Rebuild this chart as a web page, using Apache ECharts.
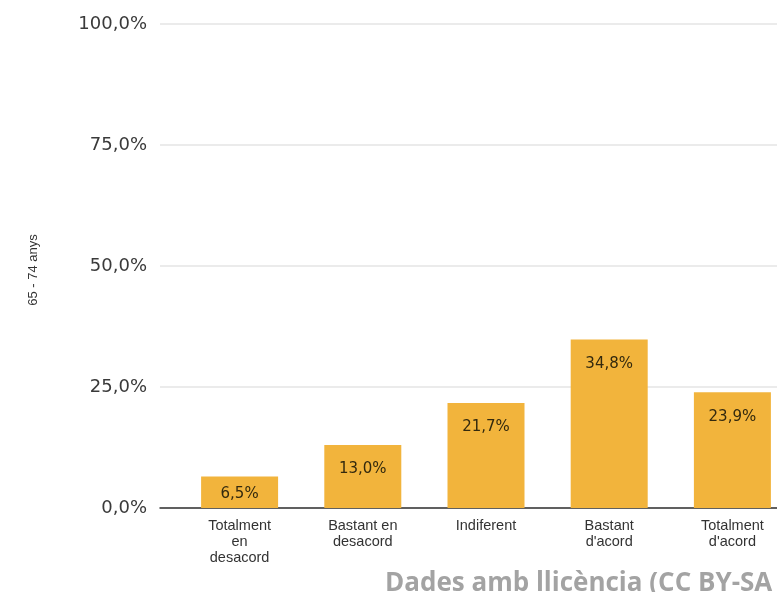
<!DOCTYPE html>
<html>
<head>
<meta charset="utf-8">
<script src="https://cdn.jsdelivr.net/npm/echarts@6/dist/echarts.min.js"></script>
<style>
html,body{margin:0;padding:0;background:#fff;}
#c{width:777px;height:592px;}
</style>
</head>
<body>
<div id="c"></div>
<script>
const categories = ["Totalment\nen\ndesacord", "Bastant en\ndesacord", "Indiferent", "Bastant\nd'acord", "Totalment\nd'acord"];
const values = [6.5, 13.0, 21.7, 34.8, 23.9];
const yTicks = [0, 25, 50, 75, 100];
const yAxisTitle = "65 - 74 anys";
const watermark = "Dades amb llicència (CC BY-SA 4.0)";

const fmt = v => v.toFixed(1).replace('.', ',') + '%';

const chart = echarts.init(document.getElementById('c'), null, {renderer: 'canvas'});
chart.setOption({
  animation: false,
  backgroundColor: '#fff',
  textStyle: {fontFamily: 'Liberation Sans, Arial, sans-serif'},
  grid: [
    {left: 160, right: 0, top: 24, bottom: 84, outerBoundsMode: 'none', containLabel: false},
    {left: 178, width: 616, top: 24, bottom: 84, outerBoundsMode: 'none', containLabel: false}
  ],
  xAxis: [
    {
      gridIndex: 0, type: 'value', min: 0, max: 1,
      axisLine: {show: true, lineStyle: {color: '#333', width: 1.5}},
      axisTick: {show: false}, axisLabel: {show: false}, splitLine: {show: false}
    },
    {
      gridIndex: 1, type: 'category', data: categories,
      axisLine: {show: false}, axisTick: {show: false},
      axisLabel: {interval: 0, color: '#333', fontSize: 14.5, lineHeight: 16, margin: 10}
    }
  ],
  yAxis: [
    {
      gridIndex: 0, type: 'value', min: yTicks[0], max: yTicks[yTicks.length - 1], interval: 25,
      name: yAxisTitle, nameLocation: 'middle', nameGap: 120,
      nameTextStyle: {color: '#333', fontSize: 13, padding: [0, 8, 0, 0]},
      axisLine: {show: false}, axisTick: {show: false},
      axisLabel: {color: '#3a3a3a', fontSize: 18, fontFamily: 'DejaVu Sans', margin: 13, formatter: v => fmt(v)},
      splitLine: {lineStyle: {color: '#e4e4e4', width: 1.5}}
    },
    {
      gridIndex: 1, type: 'value', min: 0, max: 100, show: false
    }
  ],
  series: [{
    type: 'bar', xAxisIndex: 1, yAxisIndex: 1,
    data: values.map(v => v < 10 ? {value: v, label: {distance: 10}} : v),
    barWidth: 77,
    itemStyle: {color: '#F2B43C'},
    label: {
      show: true, position: 'insideTop', distance: 17,
      color: '#33290e', fontSize: 15, fontFamily: 'DejaVu Sans',
      formatter: p => fmt(p.value)
    }
  }],
  graphic: [{
    type: 'text', left: 385, top: 571,
    style: {text: watermark, fill: '#a3a3a3', font: 'bold 26px "Open Sans", sans-serif'}
  }]
});
</script>
</body>
</html>
